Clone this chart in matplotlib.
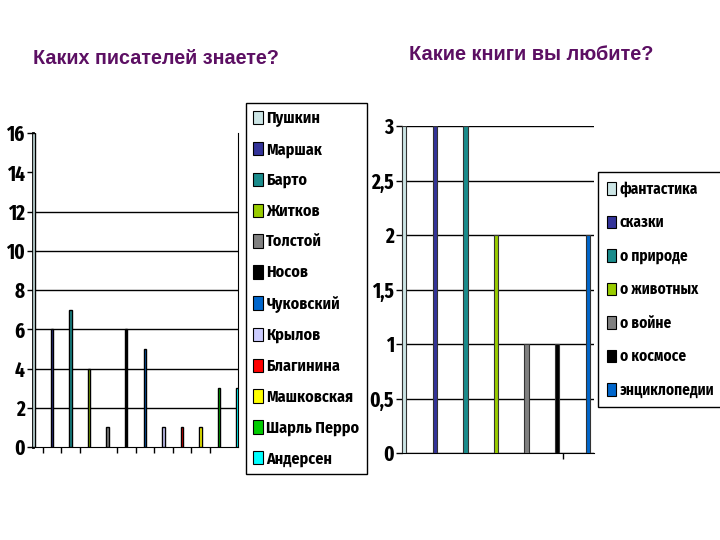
import matplotlib.pyplot as plt
import numpy as np

narrow = ['Fira Sans Condensed', 'DejaVu Sans']
xnarrow = ['Fira Sans Extra Condensed', 'DejaVu Sans']
plt.rcParams['font.family'] = narrow

# left chart: writers
writers = ['Пушкин', 'Маршак', 'Барто', 'Житков', 'Толстой', 'Носов',
           'Чуковский', 'Крылов', 'Благинина', 'Машковская', 'Шарль Перро', 'Андерсен']
writer_counts = [16, 6, 7, 4, 1, 6, 5, 1, 1, 1, 3, 3]
writer_colors = ['#cce5e5', '#333399', '#1a8c8c', '#99cc00', '#808080', '#000000',
                 '#0066cc', '#ccccff', '#ff0000', '#ffff00', '#00cc00', '#00ffff']

# right chart: favourite books
genres = ['фантастика', 'сказки', 'о природе', 'о животных', 'о войне', 'о космосе', 'энциклопедии']
genre_counts = [3, 3, 3, 2, 1, 1, 2]
genre_colors = ['#cce5e5', '#333399', '#1a8c8c', '#99cc00', '#808080', '#000000', '#0066cc']

title_color = '#5c0f63'

fig = plt.figure(figsize=(7.2, 5.4), dpi=100)

fig.text(33 / 720, 1 - 58 / 540, 'Каких писателей знаете?', color=title_color,
         fontsize=14.2, fontweight='bold', family=['Liberation Sans', 'DejaVu Sans'], va='center')
fig.text(409 / 720, 1 - 55 / 540, 'Какие книги вы любите?', color=title_color,
         fontsize=14.4, fontweight='bold', family=['Liberation Sans', 'DejaVu Sans'], va='center')

# ---- left
ax1 = fig.add_axes([33 / 720, 1 - 447 / 540, 205 / 720, 314 / 540])
x1 = np.arange(len(writers))
for i in range(len(writers)):
    ax1.bar(x1[i], writer_counts[i], width=0.13, color=writer_colors[i],
            edgecolor='black', linewidth=1, label=writers[i], zorder=3)
ax1.set_xlim(-0.03, 11.03)
ax1.set_ylim(0, 16)
ax1.set_yticks(np.arange(0, 17, 2))
ax1.set_xticks([0.5, 1.5, 2.5, 4.5, 5.5, 6.5, 7.5, 8.5, 9.5])
ax1.set_xticklabels([])
ax1.grid(axis='y', color='black', linewidth=1, zorder=0)
for v, gl in zip(ax1.get_yticks(), ax1.yaxis.get_gridlines()):
    if v > 12 or v == 0:
        gl.set_visible(False)
ax1.spines['top'].set_visible(False)
ax1.spines['left'].set_linewidth(2)
ax1.tick_params(axis='both', direction='out', length=4, width=1, pad=2)
for lab in ax1.get_yticklabels():
    lab.set_fontweight('bold')
    lab.set_fontsize(15)
    lab.set_family(xnarrow)

h1 = [plt.Rectangle((0, 0), 1, 1, facecolor=c, edgecolor='black', linewidth=0.8) for c in writer_colors]
fig.legend(handles=h1, labels=writers, loc='upper left', bbox_to_anchor=(246 / 720, 1 - 103 / 540),
           prop={'size': 11.5, 'weight': 'bold', 'family': narrow},
           frameon=True, fancybox=False, edgecolor='black', framealpha=1,
           handlelength=0.6, handleheight=0.9, handletextpad=0.22, labelspacing=0.93,
           borderpad=0.45, borderaxespad=0)

# ---- right
ax2 = fig.add_axes([402 / 720, 1 - 453 / 540, 192 / 720, 327 / 540])
x2 = np.arange(len(genres))
for i in range(len(genres)):
    ax2.bar(x2[i], genre_counts[i], width=0.14, color=genre_colors[i],
            edgecolor='#333333', linewidth=0.8, label=genres[i], zorder=3)
ax2.set_xlim(-0.07, 6.2)
ax2.set_ylim(0, 3)
ax2.set_yticks(np.arange(0, 3.01, 0.5))
ax2.set_yticklabels(['0', '0,5', '1', '1,5', '2', '2,5', '3'])
ax2.set_xticks([5.2])
ax2.set_xticklabels([])
ax2.grid(axis='y', color='black', linewidth=1, zorder=0)
ax2.spines['top'].set_visible(False)
ax2.spines['right'].set_visible(False)
ax2.tick_params(axis='both', direction='out', length=4, width=1, pad=2)
for lab in ax2.get_yticklabels():
    lab.set_fontweight('bold')
    lab.set_fontsize(15)
    lab.set_family(xnarrow)

h2 = [plt.Rectangle((0, 0), 1, 1, facecolor=c, edgecolor='black', linewidth=0.8) for c in genre_colors]
fig.legend(handles=h2, labels=genres, loc='upper left', bbox_to_anchor=(598 / 720, 1 - 172 / 540),
           prop={'size': 11, 'weight': 'bold', 'family': narrow},
           frameon=True, fancybox=False, edgecolor='black', framealpha=1,
           handlelength=0.6, handleheight=0.9, handletextpad=0.22, labelspacing=1.15,
           borderpad=0.6, borderaxespad=0)

fig.savefig('out.png', dpi=100)
